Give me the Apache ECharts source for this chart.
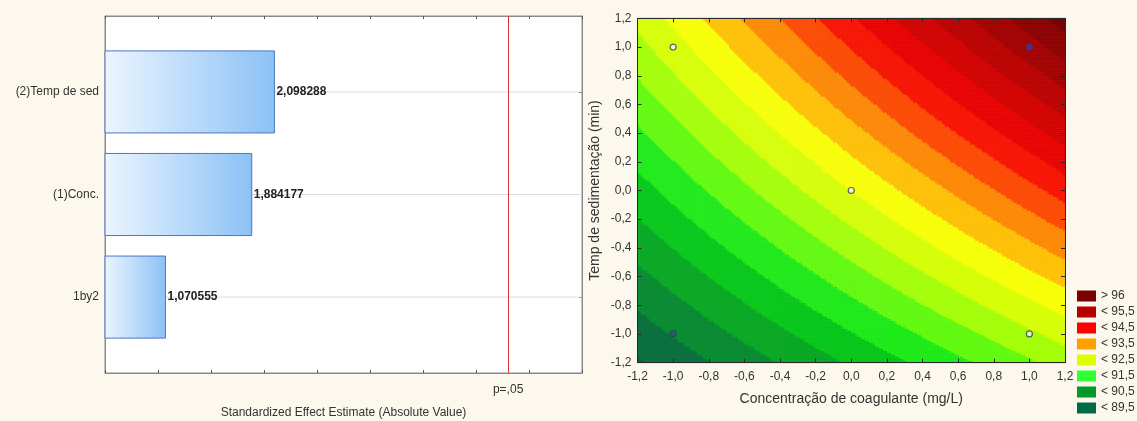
<!DOCTYPE html>
<html>
<head>
<meta charset="utf-8">
<script src="https://cdn.jsdelivr.net/npm/echarts@6/dist/echarts.min.js"></script>
<style>
  html, body { margin: 0; padding: 0; background: #fcf8ee; }
  #chart { width: 1137px; height: 421px; }
</style>
</head>
<body>
<div id="chart"></div>
<script>
// ---- Pareto chart of standardized effects ----
const effectNames = ['(2)Temp de sed', '(1)Conc.', '1by2'];
const effectValues = [2.098288, 1.884177, 1.070555];
const effectAxisMin = 0.5;
const effectAxisMax = 5.0;
const effectAxisStep = 0.5;
const pCritical = 4.303;
const pLabel = 'p=,05';
const effectAxisTitle = 'Standardized Effect Estimate (Absolute Value)';

// ---- Response surface (2^2 design with centre point) ----
const designConc = [-1, 1, -1, 1, 0];
const designTemp = [-1, -1, 1, 1, 0];
const designResponse = [89.7, 92.0, 92.3, 95.9, 92.6];
const codedMin = -1.2;
const codedMax = 1.2;
const codedStep = 0.2;
const concTitle = 'Concentração de coagulante (mg/L)';
const tempTitle = 'Temp de sedimentação (min)';
const legendLabels = ['> 96', '< 95,5', '< 94,5', '< 93,5', '< 92,5', '< 91,5', '< 90,5', '< 89,5'];
const legendLimits = [96, 95.5, 94.5, 93.5, 92.5, 91.5, 90.5, 89.5];

const FONT = '"Liberation Sans", Arial, sans-serif';
const comma = (v, d) => (Math.abs(v) < 1e-9 ? 0 : v).toFixed(d).replace('.', ',');

// Least-squares fit of b0 + b1*x + b2*y + b12*x*y (orthogonal design)
function fitSurface() {
  const n = designResponse.length;
  let s0 = 0, sx = 0, sy = 0, sxy = 0, qx = 0, qy = 0, qxy = 0;
  for (let i = 0; i < n; i++) {
    const x = designConc[i], y = designTemp[i], r = designResponse[i];
    s0 += r; sx += x * r; sy += y * r; sxy += x * y * r;
    qx += x * x; qy += y * y; qxy += x * x * y * y;
  }
  return { b0: s0 / n, b1: sx / qx, b2: sy / qy, b12: sxy / qxy };
}
const model = fitSurface();
const surface = (x, y) => model.b0 + model.b1 * x + model.b2 * y + model.b12 * x * y;

// colour ramp for the filled contour bands
const ramp = [
  [89.2, '#00583f'], [89.7, '#007a34'], [90.2, '#00a020'], [90.7, '#00c814'],
  [91.1, '#18ec14'], [91.6, '#70ff08'], [92.1, '#c4ff00'], [92.8, '#ffff00'],
  [93.1, '#ffc000'], [93.4, '#ff9800'], [93.8, '#ff5a00'], [94.2, '#ff1800'],
  [94.6, '#f00000'], [95.2, '#d00000'], [95.9, '#a40000'], [96.7, '#760000']
];
function hexToRgb(h) { return [1, 3, 5].map(i => parseInt(h.substr(i, 2), 16)); }
function rampColor(v) {
  if (v <= ramp[0][0]) return ramp[0][1];
  if (v >= ramp[ramp.length - 1][0]) return ramp[ramp.length - 1][1];
  for (let i = 0; i < ramp.length - 1; i++) {
    const [a, ca] = ramp[i], [b, cb] = ramp[i + 1];
    if (v >= a && v <= b) {
      const t = (v - a) / (b - a), A = hexToRgb(ca), B = hexToRgb(cb);
      return 'rgb(' + A.map((c, k) => Math.round(c + (B[k] - c) * t)).join(',') + ')';
    }
  }
}
const bandStart = 88.9, bandStep = 0.4, bandCount = 22;
const bandPieces = [{ lt: bandStart, color: rampColor(bandStart - 0.2) }];
for (let k = 0; k < bandCount; k++) {
  const lo = bandStart + k * bandStep;
  bandPieces.push({ gte: lo, lt: lo + bandStep, color: rampColor(lo + bandStep / 2) });
}
bandPieces.push({ gte: bandStart + bandCount * bandStep, color: rampColor(99) });

const legendColors = ['#7d0000', '#b50000', '#ff0000', '#ffa200', '#dcff00', '#33ff33', '#00992a', '#006a46'];
const legendPieces = legendLabels.map((lab, i) => {
  const p = { label: lab, color: legendColors[i] };
  if (i === 0) p.gt = legendLimits[i];
  else { p.lt = legendLimits[i]; p.gte = legendLimits[i] - 1; }
  return p;
});

// surface cells
const nx = 214, ny = 172;
const dx = (codedMax - codedMin) / nx, dy = (codedMax - codedMin) / ny;
const xCats = [], yCats = [];
for (let i = 0; i < nx; i++) xCats.push(String(codedMin + (i + 0.5) * dx));
for (let j = 0; j < ny; j++) yCats.push(String(codedMin + (j + 0.5) * dy));
const cells = [];
for (let i = 0; i < nx; i++) {
  const x = codedMin + (i + 0.5) * dx;
  for (let j = 0; j < ny; j++) {
    const y = codedMin + (j + 0.5) * dy;
    cells.push([i, j, surface(x, y)]);
  }
}

// bar positions on the vertical value axis (top bar = highest)
const barPos = effectNames.map((_, i) => effectNames.length - i);
const posMin = 0.26, posMax = 3.74;

const barGradient = new echarts.graphic.LinearGradient(0, 0, 1, 0, [
  { offset: 0, color: '#ebf5ff' }, { offset: 1, color: '#8cc1f6' }
]);

const chart = echarts.init(document.getElementById('chart'), null, { renderer: 'canvas' });

const txt = { fontFamily: FONT, color: '#333' };
const greyLine = { onZero: false, lineStyle: { color: '#8a8a8a' } };
const darkLine = { onZero: false, lineStyle: { color: '#2a2a2a' } };

chart.setOption({
  animation: false,
  backgroundColor: '#fcf8ee',
  textStyle: { fontFamily: FONT },
  grid: [
    { left: 105, right: 555, top: 16, bottom: 48, outerBoundsMode: 'none', containLabel: false,
      show: true, backgroundColor: '#ffffff', borderColor: '#8a8a8a', borderWidth: 1 },
    { left: 637.5, right: 72, top: 18.4, bottom: 58.4, outerBoundsMode: 'none', containLabel: false,
      show: true, backgroundColor: 'transparent', borderColor: '#2a2a2a', borderWidth: 1 }
  ],
  xAxis: [
    {
      gridIndex: 0, type: 'value', min: effectAxisMin, max: effectAxisMax, interval: effectAxisStep,
      axisLine: greyLine,
      axisTick: { inside: true, length: 3, lineStyle: { color: '#555' } },
      splitLine: { show: false },
      axisLabel: { customValues: [pCritical], formatter: () => pLabel, margin: 11, fontSize: 12, ...txt },
      name: effectAxisTitle, nameLocation: 'middle', nameGap: 34,
      nameTextStyle: { fontSize: 12, ...txt }
    },
    {
      gridIndex: 0, type: 'value', position: 'top', min: effectAxisMin, max: effectAxisMax, interval: effectAxisStep,
      axisLine: greyLine,
      axisTick: { inside: true, length: 3, lineStyle: { color: '#555' } },
      axisLabel: { show: false }, splitLine: { show: false }
    },
    {
      gridIndex: 1, type: 'value', min: codedMin, max: codedMax, interval: codedStep, z: 10,
      axisLine: darkLine,
      axisTick: { inside: true, length: 4, lineStyle: { color: '#2a2a2a' } },
      splitLine: { show: false },
      axisLabel: { formatter: v => comma(v, 1), margin: 8, fontSize: 12, ...txt },
      name: concTitle, nameLocation: 'middle', nameGap: 30,
      nameTextStyle: { fontSize: 14, ...txt }
    },
    {
      gridIndex: 1, type: 'value', position: 'top', min: codedMin, max: codedMax, interval: codedStep, z: 10,
      axisLine: darkLine,
      axisTick: { inside: true, length: 4, lineStyle: { color: '#2a2a2a' } },
      axisLabel: { show: false }, splitLine: { show: false }
    },
    { gridIndex: 1, type: 'category', data: xCats, show: false }
  ],
  yAxis: [
    {
      gridIndex: 0, type: 'value', min: posMin, max: posMax,
      axisLine: { show: true, ...greyLine },
      axisTick: { show: true, inside: true, length: 3, customValues: barPos, lineStyle: { color: '#555' } },
      splitLine: { show: false },
      axisLabel: {
        customValues: barPos, margin: 6, fontSize: 12, ...txt,
        formatter: v => effectNames[effectNames.length - Math.round(v)]
      }
    },
    {
      gridIndex: 0, type: 'value', position: 'right', min: posMin, max: posMax,
      axisLine: { show: true, ...greyLine },
      axisTick: { show: true, inside: true, length: 3, customValues: barPos, lineStyle: { color: '#555' } },
      axisLabel: { show: false }, splitLine: { show: false }
    },
    {
      gridIndex: 1, type: 'value', min: codedMin, max: codedMax, interval: codedStep, z: 10,
      axisLine: darkLine,
      axisTick: { inside: true, length: 4, lineStyle: { color: '#2a2a2a' } },
      splitLine: { show: false },
      axisLabel: { formatter: v => comma(v, 1), margin: 6, fontSize: 12, ...txt },
      name: tempTitle, nameLocation: 'middle', nameGap: 35,
      nameTextStyle: { fontSize: 14, ...txt }
    },
    {
      gridIndex: 1, type: 'value', position: 'right', min: codedMin, max: codedMax, interval: codedStep, z: 10,
      axisLine: darkLine,
      axisTick: { inside: true, length: 4, lineStyle: { color: '#2a2a2a' } },
      axisLabel: { show: false }, splitLine: { show: false }
    },
    { gridIndex: 1, type: 'category', data: yCats, show: false }
  ],
  visualMap: [
    {
      type: 'piecewise', show: false, seriesIndex: 2, dimension: 2, pieces: bandPieces
    },
    {
      type: 'piecewise', show: true, seriesIndex: 4, dimension: 2,
      pieces: legendPieces, selectedMode: false, hoverLink: false,
      left: 1077, top: 290, padding: 0, orient: 'vertical', align: 'left',
      itemWidth: 19, itemHeight: 11, itemGap: 4, textGap: 5, itemSymbol: 'rect',
      textStyle: { fontSize: 12, fontFamily: FONT, color: '#333' }
    }
  ],
  series: [
    {
      // horizontal guide lines at each effect
      type: 'custom', xAxisIndex: 0, yAxisIndex: 0, z: 1, silent: true,
      data: barPos.map(p => [effectAxisMax, p]),
      renderItem: (params, api) => {
        const a = api.coord([effectAxisMin, api.value(1)]);
        const b = api.coord([api.value(0), api.value(1)]);
        return { type: 'line', shape: { x1: a[0], y1: a[1], x2: b[0], y2: b[1] },
                 style: { stroke: '#dcdcdc', lineWidth: 1 } };
      }
    },
    {
      // effect bars with their values
      type: 'custom', xAxisIndex: 0, yAxisIndex: 0, z: 3, silent: true,
      data: effectValues.map((v, i) => [v, barPos[i]]),
      renderItem: (params, api) => {
        const v = api.value(0), p = api.value(1);
        const start = api.coord([effectAxisMin, p]);
        const end = api.coord([v, p]);
        const h = api.size([0, 0.8])[1];
        return {
          type: 'group',
          children: [
            { type: 'rect', shape: { x: start[0], y: end[1] - h / 2, width: end[0] - start[0], height: h },
              style: { fill: barGradient, stroke: '#4a76c6', lineWidth: 1 } },
            { type: 'text', style: { text: comma(v, 6), x: end[0] + 2, y: end[1], verticalAlign: 'middle',
              align: 'left', fill: '#222', font: 'bold 12px ' + FONT } }
          ]
        };
      },
      markLine: {
        silent: true, symbol: 'none', label: { show: false },
        lineStyle: { color: '#e0303c', width: 1, type: 'solid' },
        data: [{ xAxis: pCritical }]
      }
    },
    {
      type: 'heatmap', xAxisIndex: 4, yAxisIndex: 4, data: cells,
      progressive: 0, silent: true, emphasis: { disabled: true }
    },
    {
      type: 'scatter', xAxisIndex: 2, yAxisIndex: 2, z: 5, silent: true,
      symbol: 'circle', symbolSize: 6,
      data: designConc.map((x, i) => [x, designTemp[i]]),
      itemStyle: {
        color: p => {
          const z = surface(p.value[0], p.value[1]);
          return z > 95 ? '#4a2cc4' : (z < 90.3 ? '#1f5a8c' : '#f2f2ee');
        },
        borderColor: '#3c3c5c', borderWidth: 1.2
      }
    },
    { type: 'scatter', xAxisIndex: 2, yAxisIndex: 2, data: [], silent: true }
  ]
});
</script>
</body>
</html>
